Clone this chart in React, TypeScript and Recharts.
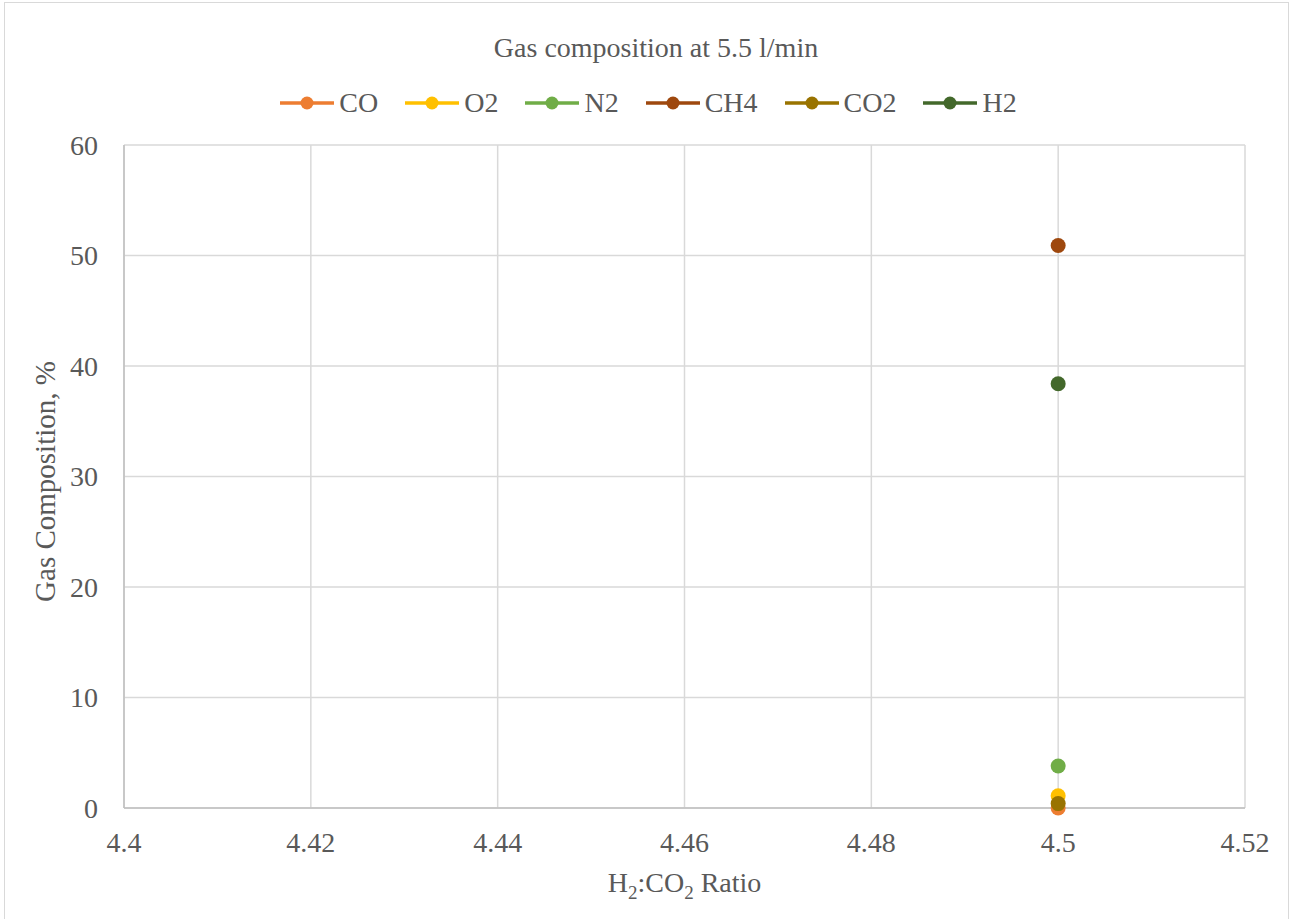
import React from 'react';
import {
  ScatterChart,
  Scatter,
  XAxis,
  YAxis,
  CartesianGrid,
  Legend,
} from 'recharts';

// H2:CO2 ratio of each run
const ratios = [4.5];

// gas composition, %
const coValues = [0];
const o2Values = [1.1];
const n2Values = [3.8];
const ch4Values = [50.9];
const co2Values = [0.4];
const h2Values = [38.4];

const seriesNames = ['CO', 'O2', 'N2', 'CH4', 'CO2', 'H2'];
const seriesColors = ['#ED7D31', '#FFC000', '#70AD47', '#9E480E', '#997300', '#43682B'];
const seriesValues = [coValues, o2Values, n2Values, ch4Values, co2Values, h2Values];

const xTicks = [4.4, 4.42, 4.44, 4.46, 4.48, 4.5, 4.52];
const yTicks = [0, 10, 20, 30, 40, 50, 60];

const WIDTH = 1297;
const HEIGHT = 919;
const FONT = '"Liberation Serif", "Times New Roman", serif';
const TEXT = '#595959';
const GRID = '#d9d9d9';

const series = seriesNames.map((name, i) => ({
  name,
  color: seriesColors[i],
  data: ratios.map((x, j) => ({ x, y: seriesValues[i][j] })),
}));

function Dot(props: any) {
  const { cx, cy, fill } = props;
  if (cx == null || cy == null) return null;
  return <circle cx={cx} cy={cy} r={7.5} fill={fill} />;
}

function LegendRow() {
  return (
    <div
      style={{
        display: 'flex',
        justifyContent: 'center',
        gap: 27,
        fontFamily: FONT,
        fontSize: 28,
        lineHeight: '32px',
        color: TEXT,
      }}
    >
      {series.map((s) => (
        <div key={s.name} style={{ display: 'flex', alignItems: 'center' }}>
          <svg width={54} height={32}>
            <line x1={0} y1={16} x2={54} y2={16} stroke={s.color} strokeWidth={3.5} />
            <circle cx={27} cy={16} r={6.5} fill={s.color} />
          </svg>
          <span style={{ marginLeft: 5 }}>{s.name}</span>
        </div>
      ))}
    </div>
  );
}

function XTitle(props: any) {
  const { viewBox } = props;
  const cx = viewBox.x + viewBox.width / 2;
  return (
    <text x={cx} y={viewBox.y + 84} textAnchor="middle" fill={TEXT} fontFamily={FONT} fontSize={28}>
      <tspan>H</tspan>
      <tspan dy={7} fontSize={19}>2</tspan>
      <tspan dy={-7}>:CO</tspan>
      <tspan dy={7} fontSize={19}>2</tspan>
      <tspan dy={-7}> Ratio</tspan>
    </text>
  );
}

function YTitle(props: any) {
  const { viewBox } = props;
  const cy = viewBox.y + viewBox.height / 2 + 5;
  const x = 55;
  return (
    <text
      x={x}
      y={cy}
      transform={`rotate(-90, ${x}, ${cy})`}
      textAnchor="middle"
      fill={TEXT}
      fontFamily={FONT}
      fontSize={29}
    >
      Gas Composition, %
    </text>
  );
}

export default function App() {
  return (
    <div style={{ position: 'absolute', left: 0, top: 0, width: WIDTH, height: HEIGHT, background: '#fff', overflow: 'hidden' }}>
      <div
        style={{
          position: 'absolute',
          left: 4,
          top: 2,
          width: 1283,
          height: 940,
          border: '1px solid #d9d9d9',
        }}
      />
      <div
        style={{
          position: 'absolute',
          left: 0,
          top: 32,
          width: 1312,
          textAlign: 'center',
          fontFamily: FONT,
          fontSize: 28,
          lineHeight: '32px',
          color: TEXT,
        }}
      >
        Gas composition at 5.5 l/min
      </div>
      <ScatterChart
        width={WIDTH}
        height={HEIGHT}
        margin={{ top: 145, right: 52, bottom: 0, left: 0 }}
        style={{ position: 'absolute', left: 0, top: 0 }}
      >
        <CartesianGrid stroke={GRID} strokeWidth={1.5} />
        <XAxis
          type="number"
          dataKey="x"
          domain={[4.4, 4.52]}
          ticks={xTicks}
          allowDataOverflow
          height={111}
          tickLine={false}
          tickSize={0}
          tickMargin={24}
          axisLine={{ stroke: '#bfbfbf', strokeWidth: 1.5 }}
          tick={{ fill: TEXT, fontFamily: FONT, fontSize: 28 }}
          tickFormatter={(v: number) => String(Number(v.toFixed(2)))}
          label={<XTitle />}
        />
        <YAxis
          type="number"
          dataKey="y"
          domain={[0, 60]}
          ticks={yTicks}
          width={124}
          tickLine={false}
          tickSize={0}
          tickMargin={26}
          axisLine={{ stroke: '#bfbfbf', strokeWidth: 1.5 }}
          tick={{ fill: TEXT, fontFamily: FONT, fontSize: 28 }}
          label={<YTitle />}
        />
        <Legend
          verticalAlign="middle"
          align="center"
          layout="horizontal"
          wrapperStyle={{ top: 87, left: 0, width: WIDTH }}
          content={<LegendRow />}
        />
        {series.map((s) => (
          <Scatter
            key={s.name}
            name={s.name}
            data={s.data}
            fill={s.color}
            shape={<Dot />}
            isAnimationActive={false}
          />
        ))}
      </ScatterChart>
    </div>
  );
}
